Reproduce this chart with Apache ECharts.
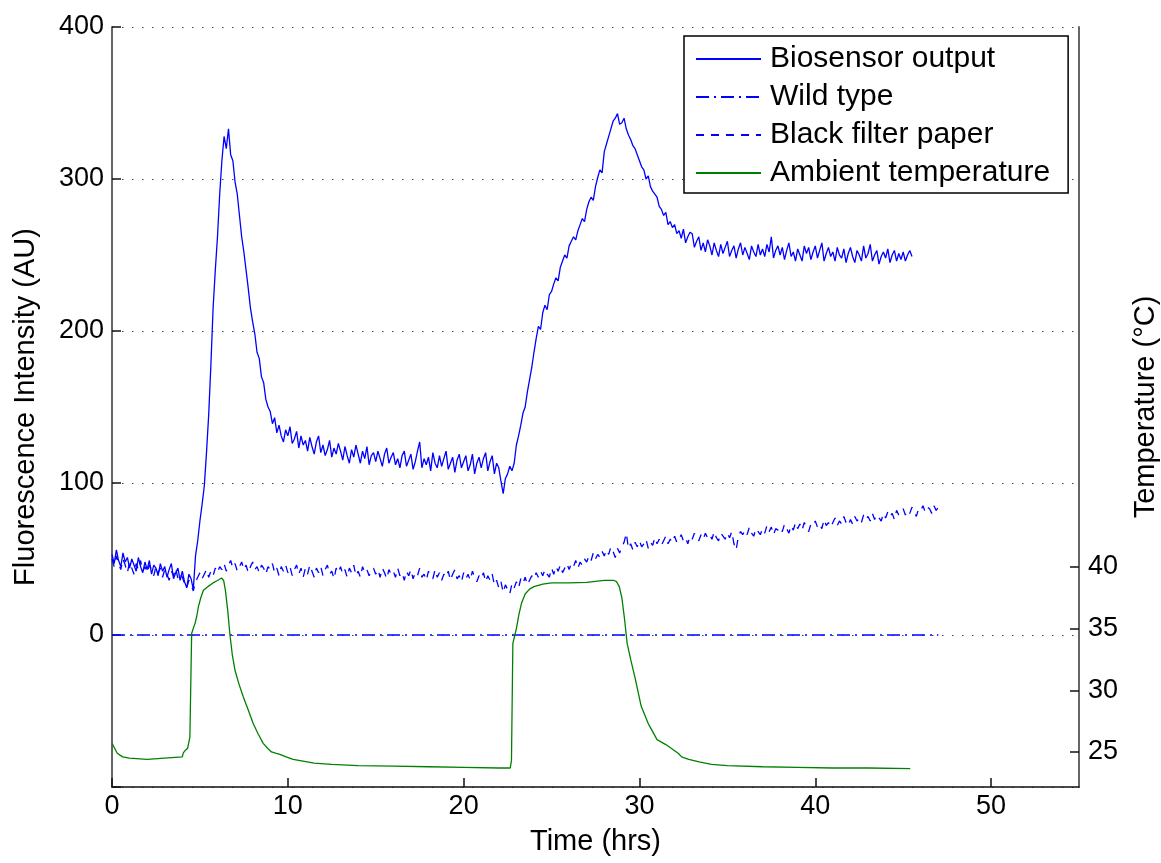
<!DOCTYPE html>
<html><head><meta charset="utf-8">
<script src="https://cdn.jsdelivr.net/npm/echarts@6/dist/echarts.min.js"></script>
<style>html,body{margin:0;padding:0;background:#fff;overflow:hidden}#c{width:1161px;height:863px}</style>
</head><body><div id="c"></div>
<script>
// ---- data ----
const xTicks = [0, 10, 20, 30, 40, 50];
const leftTicks = [0, 100, 200, 300, 400];
const rightTicks = [25, 30, 35, 40];

const seriesNames = ['Biosensor output', 'Wild type', 'Black filter paper', 'Ambient temperature'];

// Biosensor output, sampled every 0.125 h from 0 h (8 values per hour)
const bioStart = 0, bioStep = 0.125;
const biosensor = [
  53, 47, 56, 49, 45, 54, 48, 51,
  44, 50, 46, 42, 51, 45, 41, 48,
  43, 49, 40, 46, 44, 39, 47, 42,
  45, 38, 43, 47, 37, 41, 44, 36,
  42, 35, 31, 40, 37, 30, 52, 62,
  75, 86, 98, 120, 145, 178, 215, 240,
  262, 290, 312, 328, 320, 333, 316, 312,
  298, 290, 276, 262, 252, 240, 228, 215,
  206, 198, 186, 182, 170, 166, 155, 150,
  147, 139, 143, 133, 138, 131, 127, 135,
  131, 137, 126, 129, 134, 123, 131, 125,
  128, 121, 130, 124, 119, 127, 131, 120,
  125, 118, 122, 128, 117, 123, 119, 126,
  121, 115, 124, 118, 113, 122, 117, 125,
  119, 113, 121, 116, 124, 112, 118, 120,
  114, 121, 116, 111, 119, 123, 113, 117,
  120, 112, 116, 110, 118, 121, 111, 115,
  119, 109, 114, 121, 127, 110, 116, 112,
  117, 108, 120, 113, 110, 118, 111, 116,
  121, 109, 113, 117, 107, 115, 119, 110,
  114, 118, 108, 112, 119, 106, 113, 117,
  110, 116, 120, 108, 114, 118, 106, 113,
  110, 101, 93, 103, 106, 111, 108, 113,
  125, 131, 138, 146, 150, 160, 168, 176,
  186, 195, 203, 201, 212, 217, 214, 224,
  226, 231, 235, 233, 242, 246, 250, 248,
  256, 259, 262, 260, 266, 270, 274, 272,
  280, 285, 288, 286, 295, 301, 306, 304,
  318, 323, 328, 333, 338, 340, 343, 336,
  337, 340, 333, 329, 326, 322, 320, 316,
  312, 308, 306, 300, 302, 295, 292, 290,
  288, 282, 280, 276, 278, 270, 272, 268,
  270, 264, 266, 261, 267, 258, 262, 265,
  264, 255, 259, 262, 253, 258, 252, 260,
  256, 250, 258, 253, 249, 257, 251, 255,
  259, 249, 253, 256, 248, 254, 258, 250,
  255, 251, 247, 256, 252, 249, 257, 250,
  254, 249, 257, 252, 262, 248, 253, 256,
  250, 255, 247, 253, 258, 249, 252, 246,
  254, 250, 246, 256, 251, 255, 247, 252,
  256, 248, 253, 258, 246, 251, 255, 249,
  252, 246, 255, 250, 248, 254, 245, 251,
  255, 249, 245, 253, 250, 246, 256, 248,
  251, 257, 246, 250, 253, 244, 249, 252,
  248, 254, 245, 250, 253, 246, 251, 247,
  252, 246, 250, 253, 249
];

// Black filter paper, sampled every 0.125 h from 0 h (8 values per hour)
const filterStart = 0, filterStep = 0.125;
const blackFilter = [
  50, 45, 52, 47, 43, 50, 46, 41,
  48, 44, 40, 47, 43, 49, 42, 45,
  41, 46, 43, 39, 45, 41, 44, 38,
  43, 40, 36, 42, 39, 44, 37, 40,
  38, 34, 31, 36, 33, 29, 35, 38,
  41, 37, 40, 43, 38, 42, 39, 44,
  41, 45, 43, 47, 42, 46, 49, 44,
  47, 42, 45, 48, 43, 46, 41, 45,
  48, 43, 45, 41, 46, 44, 40, 45,
  43, 47, 41, 44, 39, 45, 42, 46,
  41, 45, 39, 43, 46, 40, 44, 38,
  44, 40, 46, 42, 38, 44, 41, 45,
  39, 43, 46, 40, 42, 37, 44, 41,
  45, 40, 43, 38, 44, 41, 46, 39,
  42, 38, 45, 41, 43, 39, 42, 44,
  40, 43, 38, 44, 41, 37, 43, 40,
  42, 38, 44, 39, 41, 36, 42, 39,
  43, 37, 41, 39, 44, 38, 40, 36,
  42, 39, 37, 43, 38, 41, 36, 40,
  38, 42, 36, 40, 43, 37, 39, 35,
  41, 37, 40, 36, 42, 38, 35, 39,
  37, 41, 35, 39, 36, 40, 33, 36,
  31, 35, 28, 33, 30, 27, 34, 31,
  35, 31, 37, 34, 38, 33, 36, 39,
  37, 41, 38, 42, 39, 43, 40, 38,
  44, 40, 45, 42, 46, 41, 44, 47,
  43, 47, 45, 49, 44, 48, 46, 50,
  48, 52, 49, 54, 50, 53, 51, 55,
  52, 56, 53, 58, 55, 51, 57, 54,
  58, 61, 67, 57, 60, 56, 61, 58,
  62, 58, 60, 63, 57, 61, 59, 64,
  60, 63, 59, 62, 65, 60, 63, 61,
  65, 61, 63, 66, 62, 64, 60, 65,
  63, 67, 64, 62, 66, 63, 67, 64,
  66, 63, 68, 64, 62, 67, 65, 63,
  67, 64, 68, 60, 56, 65, 68, 66,
  69, 66, 71, 67, 65, 70, 68, 66,
  70, 67, 72, 68, 71, 66, 70, 69,
  71, 68, 73, 70, 67, 72, 69, 74,
  70, 73, 69, 74, 71, 68, 73, 72,
  75, 71, 73, 70, 76, 72, 74, 71,
  74, 77, 72, 75, 73, 78, 74, 72,
  76, 73, 78, 75, 77, 74, 79, 76,
  78, 75, 80, 76, 79, 77, 75, 80,
  77, 81, 78, 80, 76, 82, 79, 81,
  83, 79, 82, 80, 84, 81, 78, 83,
  82, 85, 81, 84, 83, 80, 85, 82,
  84
];

// Wild type (flat at zero)
const wildTime = [0, 47];
const wildType = [0, 0];

// Ambient temperature (°C)
const tempTime = [0, 0.15, 0.3, 0.6, 1.0, 2, 3, 4, 4.05, 4.15,
  4.3, 4.43, 4.53, 4.62, 4.72, 4.82, 4.92, 5.05, 5.2, 5.45,
  5.75, 6.0, 6.23, 6.35, 6.45, 6.58, 6.7, 6.85, 7.0, 7.2,
  7.46, 7.75, 8.03, 8.3, 8.6, 8.85, 9.07, 9.3, 9.55, 9.9,
  10.3, 10.7, 11.5, 12.5, 14, 16, 18, 20, 22, 22.65,
  22.72, 22.8, 22.9, 23.0, 23.15, 23.3, 23.5, 23.75, 24.0, 24.5,
  25, 26, 27, 28, 28.55, 28.7, 28.85, 29.0, 29.15, 29.3,
  29.5, 29.75, 30.1, 30.5, 31.0, 31.5, 31.9, 32.2, 32.4, 32.8,
  33.4, 34.1, 35, 37, 39, 41, 43, 45.4];
const temperature = [25.7, 25.3, 24.9, 24.6, 24.5, 24.4, 24.5, 24.6, 24.9, 25.1,
  25.3, 26.2, 34.6, 35.0, 35.4, 36.0, 36.8, 37.5, 38.1, 38.4,
  38.7, 38.9, 39.1, 38.9, 38.1, 36.5, 34.6, 32.8, 31.6, 30.6,
  29.5, 28.4, 27.3, 26.5, 25.7, 25.3, 25.0, 24.9, 24.8, 24.6,
  24.4, 24.3, 24.1, 24.0, 23.9, 23.85, 23.8, 23.75, 23.7, 23.7,
  24.3, 33.8, 34.4, 35.0, 36.2, 37.1, 37.8, 38.2, 38.4, 38.6,
  38.7, 38.7, 38.75, 38.9, 38.9, 38.8, 38.4, 37.5, 35.8, 33.8,
  32.5, 31.0, 28.7, 27.3, 26.0, 25.6, 25.2, 24.9, 24.6, 24.4,
  24.2, 24.0, 23.9, 23.8, 23.75, 23.7, 23.7, 23.65];

// ---- build chart ----
const FONT = 'Liberation Sans, Arial, Helvetica, sans-serif';
const pairs = (start, step, vals) => vals.map((v, i) => [start + i * step, v]);
const zip = (ts, vs) => ts.map((t, i) => [t, vs[i]]);

const chart = echarts.init(document.getElementById('c'), null, {renderer: 'canvas'});
chart.setOption({
  animation: false,
  backgroundColor: '#fff',
  textStyle: {fontFamily: FONT, color: '#000'},
  grid: {left: 112, right: 82, top: 27, bottom: 76, containLabel: false, outerBoundsMode: 'none'},
  legend: {
    orient: 'vertical', left: 684, top: 36,
    data: seriesNames,
    padding: [8, 18, 5, 11],
    itemWidth: 65, itemHeight: 30, itemGap: 8,
    itemStyle: {opacity: 0},
    borderColor: '#000', borderWidth: 1.5, backgroundColor: '#fff',
    textStyle: {fontSize: 30, fontFamily: FONT, color: '#000', padding: [0, 0, 0, 4]}
  },
  xAxis: {
    type: 'value', min: 0, max: 55, interval: 10,
    name: 'Time (hrs)', nameLocation: 'middle', nameGap: 40,
    nameTextStyle: {fontSize: 29, fontFamily: FONT, color: '#000'},
    axisLine: {show: true, onZero: false, lineStyle: {color: '#111', width: 1.5}},
    axisTick: {inside: true, length: 9, lineStyle: {color: '#111', width: 1.5}},
    axisLabel: {fontSize: 27, color: '#000', margin: 6, showMaxLabel: false,
      formatter: v => xTicks.includes(v) ? String(v) : ''},
    splitLine: {show: false}
  },
  yAxis: [{
    type: 'value', min: -100, max: 400, interval: 100,
    name: 'Fluorescence Intensity (AU)', nameLocation: 'middle', nameGap: 72,
    nameTextStyle: {fontSize: 29, fontFamily: FONT, color: '#000'},
    axisLine: {show: true, onZero: false, lineStyle: {color: '#666', width: 2}},
    axisTick: {inside: true, length: 9, lineStyle: {color: '#111', width: 1.5}},
    axisLabel: {fontSize: 27, color: '#000', margin: 8,
      formatter: v => leftTicks.includes(v) ? String(v) : ''},
    splitLine: {show: true, lineStyle: {color: '#444', width: 1, type: [1.5, 8.5]}}
  }, {
    type: 'value', min: 22.16, max: 83.76, position: 'right',
    name: 'Temperature (°C)', nameLocation: 'middle', nameGap: 52, nameRotate: 90,
    nameTextStyle: {fontSize: 29, fontFamily: FONT, color: '#000'},
    axisLine: {show: true, onZero: false, lineStyle: {color: '#666', width: 2}},
    axisTick: {show: true, inside: true, length: 9, customValues: rightTicks,
      lineStyle: {color: '#111', width: 1.5}},
    axisLabel: {fontSize: 27, color: '#000', margin: 9, customValues: rightTicks},
    splitLine: {show: false}
  }],
  series: [{
    name: seriesNames[0], type: 'line', yAxisIndex: 0, symbol: 'none', showSymbol: false,
    data: pairs(bioStart, bioStep, biosensor),
    lineStyle: {color: '#0000ff', width: 1.3}, itemStyle: {color: '#0000ff'}
  }, {
    name: seriesNames[1], type: 'line', yAxisIndex: 0, symbol: 'none', showSymbol: false,
    data: zip(wildTime, wildType),
    lineStyle: {color: '#0000ff', width: 1.3, type: [13, 5, 2, 5]}, itemStyle: {color: '#0000ff'}
  }, {
    name: seriesNames[2], type: 'line', yAxisIndex: 0, symbol: 'none', showSymbol: false,
    data: pairs(filterStart, filterStep, blackFilter),
    lineStyle: {color: '#0000ff', width: 1.3, type: [8, 7]}, itemStyle: {color: '#0000ff'}
  }, {
    name: seriesNames[3], type: 'line', yAxisIndex: 1, symbol: 'none', showSymbol: false,
    data: zip(tempTime, temperature),
    lineStyle: {color: '#008000', width: 1.3}, itemStyle: {color: '#008000'}
  }]
});
</script></body></html>
